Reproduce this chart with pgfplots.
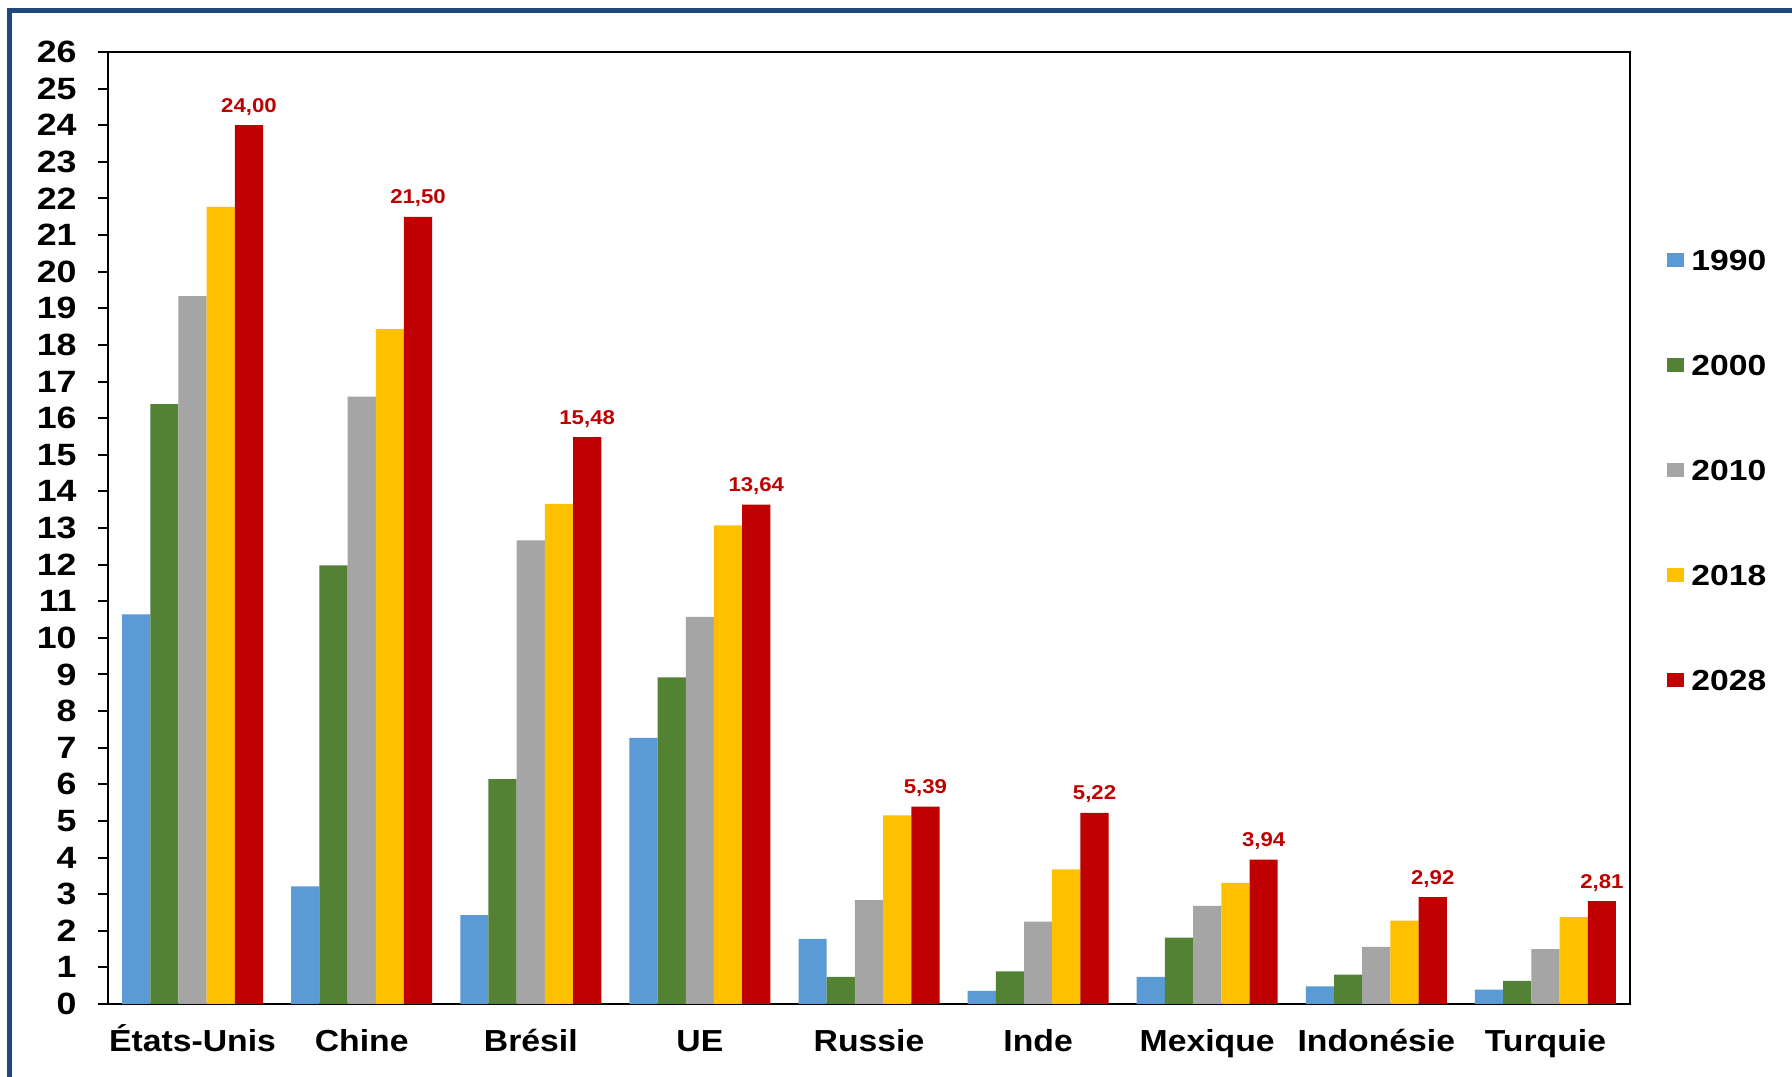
\documentclass[border=0pt]{standalone}
\usepackage{fontspec}
\setmainfont[FakeStretch=1.11]{Liberation Sans}
\newfontfamily\widefont[FakeStretch=1.16]{Liberation Sans}
\usepackage{pgfplots}
\pgfplotsset{compat=1.18}

\begin{document}
\begin{tikzpicture}

\definecolor{c1990}{RGB}{91,155,213}
\definecolor{c2000}{RGB}{84,130,53}
\definecolor{c2010}{RGB}{165,165,165}
\definecolor{c2018}{RGB}{255,192,0}
\definecolor{c2028}{RGB}{192,0,0}
\definecolor{framecol}{RGB}{31,73,125}

% canvas 1792x1077 px at 0.5bp per px
\path[use as bounding box, fill=white] (0,0) rectangle (896bp,538.5bp);
\draw[framecol, line width=2.6bp] (4.75bp,-5bp) -- (4.75bp,533.25bp) -- (905bp,533.25bp);

\begin{axis}[
at={(54bp,36.5bp)}, anchor=south west,
width=761bp, height=476bp, scale only axis,
ybar=0pt, bar width=14.1bp,
xmin=-0.5, xmax=8.5,
ymin=0, ymax=26,
xtick={0,...,8},
xticklabels={États-Unis,Chine,Brésil,UE,Russie,Inde,Mexique,Indonésie,Turquie},
ytick={0,1,...,26},
axis line style={line width=1.1bp, black},
tick align=outside, tick pos=left,
major tick length=5bp,
ytick style={line width=1bp, black},
xtick style={draw=none},
/pgf/number format/assume math mode=true,
yticklabel style={font=\widefont\fontsize{15.4bp}{18bp}\selectfont\bfseries, inner sep=0pt, xshift=-10.5bp},
xticklabel style={font=\fontsize{15.2bp}{18bp}\selectfont\bfseries, inner sep=0pt, text height=11bp, text depth=3bp, yshift=-7.4bp},
every axis plot post/.append style={legend image code/.code={\fill[##1] (0bp,-3.5bp) rectangle (8.5bp,3.5bp);}},
legend style={draw=none, fill=none, at={(1.0243,0.561)}, anchor=west, inner sep=0pt,
  row sep=41.5bp, column sep=3.5bp,
  nodes={inner sep=0pt, text height=11bp, text depth=0pt, font=\widefont\fontsize{14.5bp}{17bp}\selectfont\bfseries}},
legend cell align=left,
]
\addplot[fill=c1990, draw=none] coordinates {(0,10.64) (1,3.21) (2,2.43) (3,7.27) (4,1.78) (5,0.36) (6,0.74) (7,0.48) (8,0.39)};
\addplot[fill=c2000, draw=none] coordinates {(0,16.38) (1,11.98) (2,6.14) (3,8.92) (4,0.74) (5,0.89) (6,1.81) (7,0.8) (8,0.63)};
\addplot[fill=c2010, draw=none] coordinates {(0,19.33) (1,16.59) (2,12.66) (3,10.57) (4,2.84) (5,2.25) (6,2.68) (7,1.56) (8,1.5)};
\addplot[fill=c2018, draw=none] coordinates {(0,21.77) (1,18.43) (2,13.66) (3,13.07) (4,5.15) (5,3.68) (6,3.31) (7,2.28) (8,2.37)};
\addplot[fill=c2028, draw=none,
  nodes near coords={\pgfmathprintnumber[fixed,fixed zerofill,precision=2,use comma,assume math mode=true]{\pgfplotspointmeta}},
  nodes near coords style={anchor=base, yshift=6.5bp, inner sep=0pt, text=c2028, font=\fontsize{10bp}{12bp}\selectfont\bfseries}]
  coordinates {(0,24.00) (1,21.50) (2,15.48) (3,13.64) (4,5.39) (5,5.22) (6,3.94) (7,2.92) (8,2.81)};
\legend{1990,2000,2010,2018,2028}
\end{axis}

\end{tikzpicture}
\end{document}
